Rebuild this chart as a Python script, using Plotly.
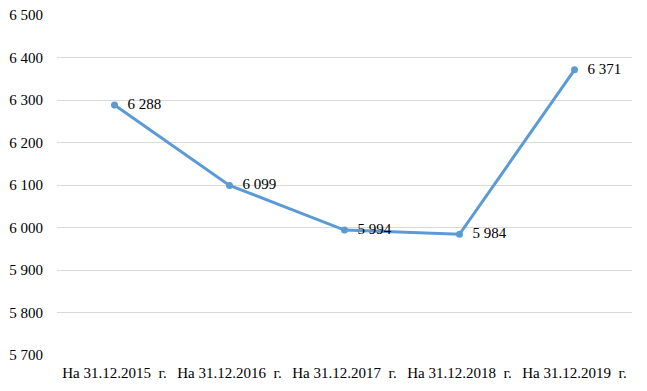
import plotly.graph_objects as go

categories = ["На 31.12.2015  г.", "На 31.12.2016  г.", "На 31.12.2017  г.", "На 31.12.2018  г.", "На 31.12.2019  г."]
values = [6288, 6099, 5994, 5984, 6371]
y_ticks = [5700, 5800, 5900, 6000, 6100, 6200, 6300, 6400, 6500]

SERIF = "Liberation Serif, Times New Roman, serif"

fig = go.Figure()
fig.add_trace(go.Scatter(
    x=categories, y=values, mode="lines+markers+text",
    line=dict(color="#5B9BD5", width=3),
    marker=dict(color="#5B9BD5", size=7),
    text=["  " + f"{v:,}".replace(",", " ") for v in values],
    textposition="middle right",
    textfont=dict(family=SERIF, size=15, color="#000000"),
    cliponaxis=False,
    hoverinfo="skip",
))
fig.update_layout(
    template="none",
    width=647, height=391,
    margin=dict(l=57, r=15, t=15, b=36, autoexpand=False),
    paper_bgcolor="white", plot_bgcolor="white",
    showlegend=False,
    separators=", ",
    font=dict(family=SERIF, size=15, color="#000000"),
)
fig.update_xaxes(range=[-0.5, 4.5], automargin=False,
                 showgrid=False, showline=False, zeroline=False,
                 ticks="outside", ticklen=4, tickcolor="rgba(0,0,0,0)",
                 tickfont=dict(family=SERIF, size=15, color="#000000"))
fig.update_yaxes(range=[5700, 6500], tickvals=y_ticks, tickformat=",",
                 automargin=False, ticklabeloverflow="allow",
                 showgrid=True, gridcolor="#D9D9D9", gridwidth=1,
                 zeroline=False, showline=False,
                 ticks="outside", ticklen=10, tickcolor="rgba(0,0,0,0)",
                 tickfont=dict(family=SERIF, size=15, color="#000000"))
fig.write_html("out.html", config={"displayModeBar": False},
               post_script="document.body.style.margin='0';")
